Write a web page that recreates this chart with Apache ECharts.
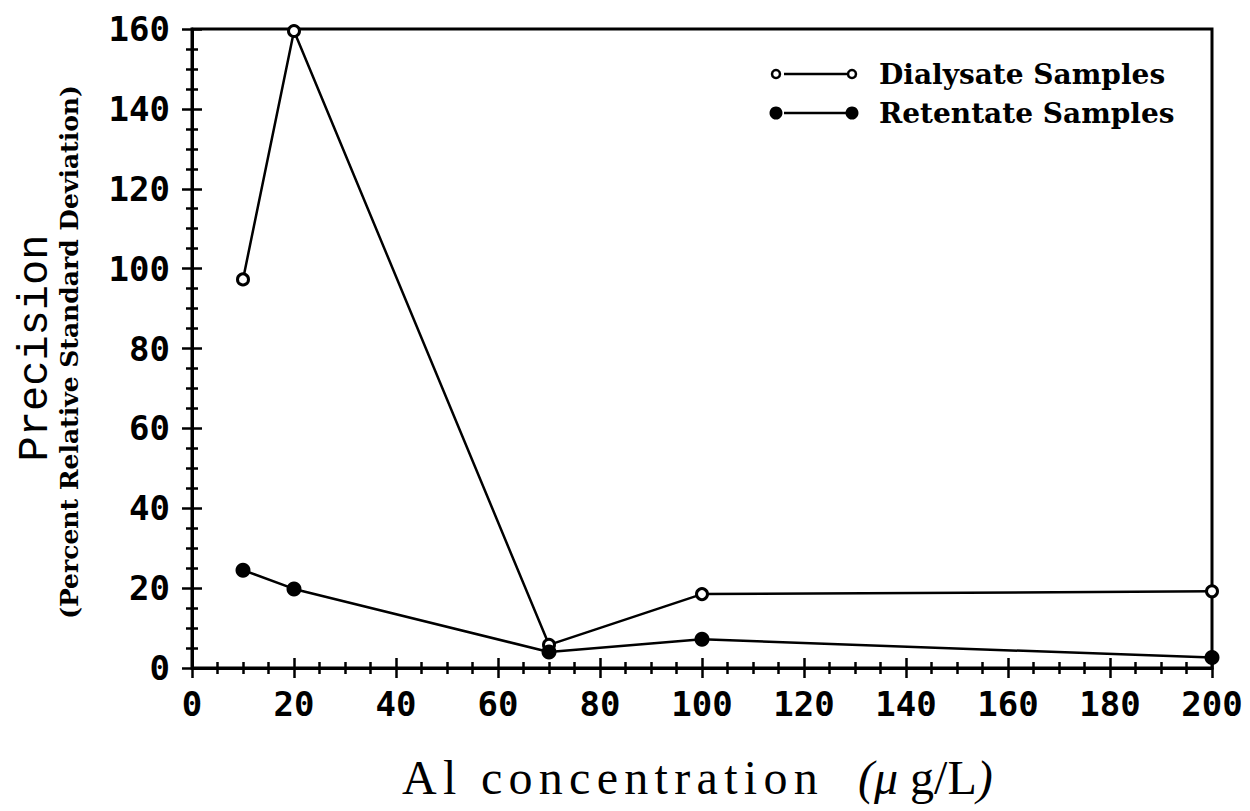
<!DOCTYPE html>
<html><head><meta charset="utf-8">
<script src="https://cdn.jsdelivr.net/npm/echarts@6/dist/echarts.min.js"></script>
<style>html,body{margin:0;padding:0;background:#fff}#c{width:1250px;height:811px}</style>
</head><body><div id="c"></div>
<script>
const concentrations = [10, 20, 70, 100, 200];
const dialysate = [97.3, 159.5, 5.8, 18.5, 19.2];
const retentate = [24.5, 19.8, 4.0, 7.2, 2.6];
const seriesNames = ['Dialysate Samples', 'Retentate Samples'];
const xTickStep = 20, xMax = 200;
const yTickStep = 20, yMax = 160;

const chart = echarts.init(document.getElementById('c'), null, {renderer: 'svg'});
const tickFont = {fontFamily: 'DejaVu Sans Mono', fontWeight: 'bold', fontSize: 34, color: '#000'};
const gridBox = {left: 192, right: 38, top: 29, bottom: 143};
const tickLine = {color: '#000', width: 2.5};
function mkAxis(max, step, gridIndex, inside, withLine, label) {
  return {
    type: 'value', show: true, min: 0, max: max, interval: step, gridIndex: gridIndex,
    splitLine: {show: false}, minorSplitLine: {show: false},
    axisLine: {show: withLine, lineStyle: {color: '#000', width: 3}},
    axisTick: {show: true, inside: inside, length: 10, lineStyle: tickLine},
    minorTick: {show: true, splitNumber: 4, length: 6, lineStyle: tickLine},
    axisLabel: label || {show: false}
  };
}
const option = {
  backgroundColor: '#fff',
  animation: false,
  grid: [
    Object.assign({show: true, borderColor: '#000', borderWidth: 3, backgroundColor: 'transparent'}, gridBox),
    Object.assign({show: false}, gridBox)
  ],
  xAxis: [
    mkAxis(xMax, xTickStep, 0, false, true, Object.assign({margin: 19}, tickFont)),
    mkAxis(xMax, xTickStep, 1, true, false)
  ],
  yAxis: [
    mkAxis(yMax, yTickStep, 0, false, true, Object.assign({margin: 22}, tickFont)),
    mkAxis(yMax, yTickStep, 1, true, false)
  ],
  series: [
    {name: seriesNames[0], type: 'line', xAxisIndex: 0, yAxisIndex: 0,
      data: concentrations.map((x, i) => [x, dialysate[i]]),
      symbol: 'circle', symbolSize: 11, showAllSymbol: true,
      lineStyle: {color: '#000', width: 2.5},
      itemStyle: {color: '#fff', borderColor: '#000', borderWidth: 3}, z: 3},
    {name: seriesNames[1], type: 'line', xAxisIndex: 0, yAxisIndex: 0,
      data: concentrations.map((x, i) => [x, retentate[i]]),
      symbol: 'circle', symbolSize: 15, showAllSymbol: true,
      lineStyle: {color: '#000', width: 2.5},
      itemStyle: {color: '#000', borderColor: '#000', borderWidth: 0}, z: 4},
    {name: 'tick-helper', type: 'line', xAxisIndex: 1, yAxisIndex: 1, data: [], silent: true, symbol: 'none'}
  ],
  graphic: [
    {type: 'text', x: 36, y: 348, rotation: Math.PI / 2,
      style: {text: 'Precision', font: '42px "Liberation Mono"', fill: '#000', textAlign: 'center', textVerticalAlign: 'middle'}},
    {type: 'text', x: 69, y: 352, rotation: Math.PI / 2,
      style: {text: '(Percent Relative Standard Deviation)', font: 'bold 25px "DejaVu Serif"', fill: '#000', textAlign: 'center', textVerticalAlign: 'middle'}},
    {type: 'text', id: 'xtitle', x: 402, y: 777,
      style: {text: 'Al concentration', font: '48px "Liberation Serif"', fill: '#000', textAlign: 'left', textVerticalAlign: 'middle'}},
    {type: 'text', x: 858, y: 777,
      style: {
        text: '{i|(μ}{n| g/L}{i|)}',
        textAlign: 'left', textVerticalAlign: 'middle',
        rich: {
          n: {fontFamily: 'Liberation Serif', fontSize: 48, fill: '#000'},
          i: {fontFamily: 'Liberation Serif', fontSize: 48, fontStyle: 'italic', fill: '#000'}
        }
      }},
    // legend
    {type: 'line', shape: {x1: 784, y1: 74, x2: 848, y2: 74}, style: {stroke: '#000', lineWidth: 2.5}},
    {type: 'circle', shape: {cx: 776, cy: 74, r: 4}, style: {fill: '#fff', stroke: '#000', lineWidth: 2.5}},
    {type: 'circle', shape: {cx: 852, cy: 74, r: 4}, style: {fill: '#fff', stroke: '#000', lineWidth: 2.5}},
    {type: 'text', x: 879, y: 74, style: {text: seriesNames[0], font: 'bold 28px "DejaVu Serif"', fill: '#000', textVerticalAlign: 'middle'}},
    {type: 'line', shape: {x1: 784, y1: 113, x2: 848, y2: 113}, style: {stroke: '#000', lineWidth: 2.5}},
    {type: 'circle', shape: {cx: 776, cy: 113, r: 6.5}, style: {fill: '#000'}},
    {type: 'circle', shape: {cx: 852, cy: 113, r: 6.5}, style: {fill: '#000'}},
    {type: 'text', x: 879, y: 113, style: {text: seriesNames[1], font: 'bold 28px "DejaVu Serif"', fill: '#000', textVerticalAlign: 'middle'}}
  ]
};
chart.setOption(option);
// widen the letter spacing of the axis title as in the original typesetting
document.querySelectorAll('#c svg text').forEach(function (t) {
  if (t.textContent === 'Al concentration') t.setAttribute('letter-spacing', '6.3');
});
</script></body></html>
